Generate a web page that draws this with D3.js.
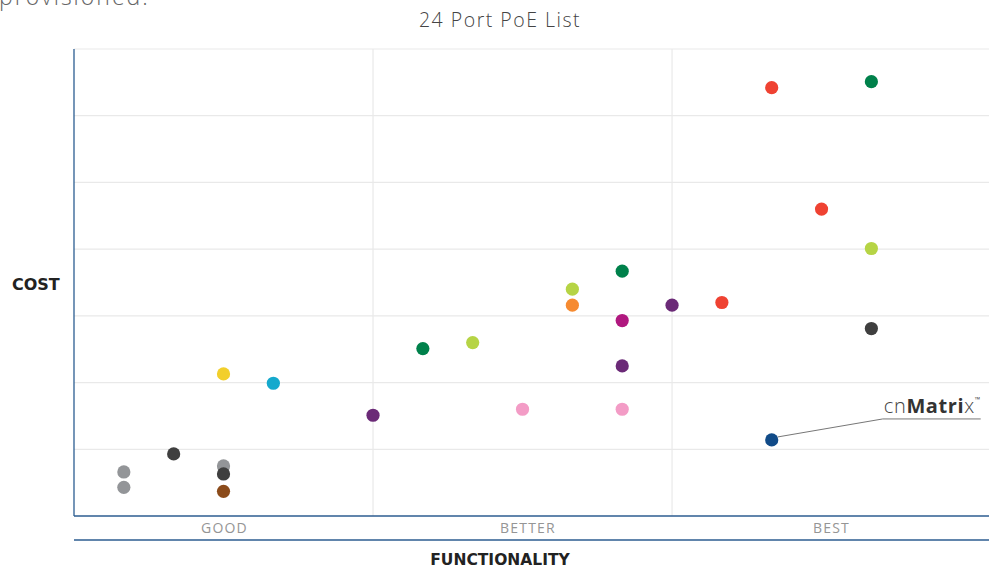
<!DOCTYPE html>
<html>
<head>
<meta charset="utf-8">
<script src="https://cdn.jsdelivr.net/npm/d3@7"></script>
<style>
  body { margin: 0; background: #fff; }
  text { font-family: "Open Sans", Lato, sans-serif; }
</style>
</head>
<body>
<div id="chart"></div>
<script>
// Chart data: functionality score (x), cost index (y), dot colour
var tiers = ["GOOD", "BETTER", "BEST"];
var functionality = [1, 1, 2, 3, 3, 3, 3, 4, 6, 7, 8, 9, 10, 10, 11, 11, 11, 11, 12, 13, 14, 14, 15, 16, 16, 16];
var cost = [0.66, 0.43, 0.93, 0.75, 0.63, 0.37, 2.13, 1.99, 1.51, 2.51, 2.60, 1.60, 3.40, 3.16, 3.67, 2.93, 2.25, 1.60, 3.16, 3.20, 1.14, 6.42, 4.60, 6.51, 4.01, 2.81];
var dotColors = ["#939598", "#939598", "#3f3f3f", "#939598", "#3f3f3f", "#8b4b1a", "#f2cf2b", "#15a9cd", "#6b2a77",
  "#00814b", "#b6d445", "#f39cc6", "#b6d445", "#f68b31", "#00814b", "#b0187f", "#6b2a77", "#f39cc6",
  "#6b2a77", "#ef4232", "#114b88", "#ef4232", "#ef4232", "#00814b", "#b6d445", "#3f3f3f"];
var highlightIndex = 20; // cnMatrix
var costTicks = [0, 1, 2, 3, 4, 5, 6, 7];
var tierBreaks = [0, 6, 12, 18];

var svgWidth = 989;
var svgHeight = 569;

var margin = { top: 49, right: 0, bottom: 53, left: 74 };
var chartWidth = svgWidth - margin.left - margin.right;
var chartHeight = svgHeight - margin.top - margin.bottom;

var svg = d3.select("#chart")
  .append("svg")
  .attr("width", svgWidth)
  .attr("height", svgHeight);

var points = functionality.map(function(f, i) {
  return { x: f, y: cost[i], color: dotColors[i] };
});

var xScale = d3.scaleLinear().domain([0, 18.36]).range([0, chartWidth]);
var yScale = d3.scaleLinear().domain([0, 7]).range([chartHeight, 0]);
var tierScale = d3.scalePoint().domain(tiers).range([150, 757]);

var chartGroup = svg.append("g")
  .attr("transform", `translate(${margin.left}, ${margin.top})`);

// horizontal gridlines
chartGroup.append("g")
  .selectAll("line")
  .data(costTicks.slice(1))
  .enter()
  .append("line")
  .attr("x1", 0)
  .attr("x2", chartWidth)
  .attr("y1", d => yScale(d))
  .attr("y2", d => yScale(d))
  .attr("stroke", "#e9e9e9")
  .attr("stroke-width", 1.2);

// vertical tier lines
chartGroup.append("g")
  .selectAll("line")
  .data(tierBreaks.slice(1, 3))
  .enter()
  .append("line")
  .attr("x1", d => xScale(d))
  .attr("x2", d => xScale(d))
  .attr("y1", 0)
  .attr("y2", chartHeight)
  .attr("stroke", "#e9e9e9")
  .attr("stroke-width", 1.2);

// axes lines
var axisColor = "#2c5d91";
chartGroup.append("line")
  .attr("x1", 0).attr("x2", 0)
  .attr("y1", 0).attr("y2", chartHeight)
  .attr("stroke", axisColor).attr("stroke-width", 1.3);

chartGroup.append("line")
  .attr("x1", 0).attr("x2", chartWidth)
  .attr("y1", chartHeight).attr("y2", chartHeight)
  .attr("stroke", axisColor).attr("stroke-width", 1.3);

chartGroup.append("line")
  .attr("x1", 0).attr("x2", chartWidth)
  .attr("y1", chartHeight + 24).attr("y2", chartHeight + 24)
  .attr("stroke", axisColor).attr("stroke-width", 1.3);

// tier labels
var tierAxis = chartGroup.append("g")
  .attr("transform", `translate(0, ${chartHeight})`)
  .call(d3.axisBottom(tierScale).tickSize(0).tickPadding(7));
tierAxis.select(".domain").remove();
tierAxis.selectAll("text")
  .attr("fill", "#959595")
  .attr("font-size", 14)
  .attr("letter-spacing", "1.2px")
  .style("font-family", "'Open Sans', sans-serif");

// annotation for cnMatrix
var hp = points[highlightIndex];
var hx = xScale(hp.x), hy = yScale(hp.y);
chartGroup.append("polyline")
  .attr("points", `${hx + 6},${hy - 3} ${hx + 111},${hy - 21} ${hx + 209},${hy - 21}`)
  .attr("fill", "none")
  .attr("stroke", "#777")
  .attr("stroke-width", 1);

var label = chartGroup.append("text")
  .attr("x", hx + 209)
  .attr("y", hy - 27)
  .attr("text-anchor", "end")
  .attr("font-size", 20)
  .attr("letter-spacing", "0.6px")
  .attr("fill", "#444");
label.append("tspan").attr("font-weight", 300).text("cn");
label.append("tspan").attr("font-weight", "bold").attr("fill", "#333").text("Matri");
label.append("tspan").attr("font-weight", 300).text("x");
label.append("tspan").attr("font-size", 7).attr("dy", -11).text("™");

// dots
chartGroup.append("g")
  .selectAll("circle")
  .data(points)
  .enter()
  .append("circle")
  .attr("cx", d => xScale(d.x))
  .attr("cy", d => yScale(d.y))
  .attr("r", 6.6)
  .attr("fill", d => d.color);

// titles
svg.append("text")
  .attr("x", 500)
  .attr("y", 27)
  .attr("text-anchor", "middle")
  .attr("font-size", 19.5)
  .attr("font-weight", 300)
  .attr("letter-spacing", "1.5px")
  .attr("fill", "#444")
  .text("24 Port PoE List");

svg.append("text")
  .attr("x", -1)
  .attr("y", 5)
  .attr("font-size", 23)
  .attr("font-weight", 300)
  .attr("letter-spacing", "2px")
  .attr("fill", "#666")
  .text("provisioned.");

svg.append("text")
  .attr("x", 12)
  .attr("y", 290)
  .attr("font-size", 16)
  .attr("font-weight", "bold")
  .style("font-family", "'DejaVu Sans', sans-serif")
  .attr("fill", "#222")
  .text("COST");

svg.append("text")
  .attr("x", 500)
  .attr("y", 565)
  .attr("text-anchor", "middle")
  .attr("font-size", 15.5)
  .attr("font-weight", "bold")
  .style("font-family", "'DejaVu Sans', sans-serif")
  .attr("fill", "#222")
  .text("FUNCTIONALITY");
</script>
</body>
</html>
